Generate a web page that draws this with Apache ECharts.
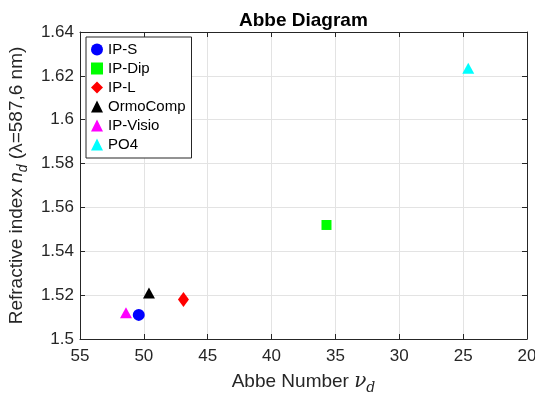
<!DOCTYPE html>
<html>
<head>
<meta charset="utf-8">
<script src="https://cdn.jsdelivr.net/npm/echarts@6/dist/echarts.min.js"></script>
<style>
html,body{margin:0;padding:0;background:#fff;}
#c{width:535px;height:393px;}
</style>
</head>
<body>
<div id="c"></div>
<script>
// ---- data ----
const materials = ['IP-S', 'IP-Dip', 'IP-L', 'OrmoComp', 'IP-Visio', 'PO4'];
const abbeNumbers = [50.4, 35.7, 46.9, 49.6, 51.4, 24.6];
const refractiveIndex = [1.511, 1.552, 1.518, 1.521, 1.512, 1.6235];
const xTicks = [20, 25, 30, 35, 40, 45, 50, 55];
const yTicks = [1.5, 1.52, 1.54, 1.56, 1.58, 1.6, 1.62, 1.64];

// ---- styles ----
const colors = ['#0000ff', '#00ff00', '#ff0000', '#000000', '#ff00ff', '#00ffff'];
const symbols = ['circle', 'rect', 'diamond', 'triangle', 'triangle', 'triangle'];
const sizes = [12, 10, [11, 15], [12, 11], [12, 11], [12, 11]];
const FONT = 'Liberation Sans, Arial, Helvetica, sans-serif';
const AX = '#262626';

const chart = echarts.init(document.getElementById('c'), null, {renderer: 'canvas'});

const series = materials.map((m, i) => ({
  name: m,
  type: 'scatter',
  xAxisIndex: 0,
  yAxisIndex: 0,
  symbol: symbols[i],
  symbolSize: sizes[i],
  z: i === 0 ? 5 : 2,
  itemStyle: {color: colors[i], opacity: 1},
  emphasis: {disabled: true},
  data: [[abbeNumbers[i], refractiveIndex[i]]]
}));

const baseX = {
  type: 'value',
  min: xTicks[0],
  max: xTicks[xTicks.length - 1],
  interval: 5,
  inverse: true,
  axisLine: {show: true, onZero: false, lineStyle: {color: AX, width: 1}},
  axisTick: {show: true, inside: true, length: 5, lineStyle: {color: AX}},
  splitLine: {show: false}
};
const baseY = {
  type: 'value',
  min: yTicks[0],
  max: yTicks[yTicks.length - 1],
  interval: 0.02,
  axisLine: {show: true, onZero: false, lineStyle: {color: AX, width: 1}},
  axisTick: {show: true, inside: true, length: 5, lineStyle: {color: AX}},
  splitLine: {show: false}
};

chart.setOption({
  animation: false,
  backgroundColor: '#ffffff',
  textStyle: {fontFamily: FONT},
  title: {
    text: 'Abbe Diagram',
    left: 234,
    top: 6,
    textStyle: {fontFamily: FONT, fontSize: 19, fontWeight: 'bold', color: '#000'}
  },
  grid: {left: 80, right: 8, top: 32, bottom: 54, containLabel: false, outerBoundsMode: 'none'},
  legend: {
    orient: 'vertical',
    left: 86,
    top: 37,
    padding: [5, 6, 6, 5],
    itemWidth: 12,
    itemHeight: 12,
    itemGap: 4,
    backgroundColor: '#fff',
    borderColor: AX,
    borderWidth: 1,
    borderRadius: 0,
    selectedMode: false,
    textStyle: {fontFamily: FONT, fontSize: 15, lineHeight: 15, color: '#000', padding: [0, 0, 0, 0]},
    data: materials.map((m, i) => ({name: m, icon: symbols[i]}))
  },
  xAxis: [
    Object.assign({}, baseX, {
      position: 'bottom',
      splitLine: {show: true, lineStyle: {color: '#e3e3e3', width: 1}},
      axisLabel: {show: true, color: AX, fontSize: 17, fontFamily: FONT, margin: 9},
      name: '{t|Abbe Number }{g|ν}{s|d}',
      nameLocation: 'middle',
      nameGap: 30,
      nameTextStyle: {
        rich: {
          t: {fontSize: 19, fontFamily: FONT, color: AX},
          g: {fontSize: 20, fontFamily: 'DejaVu Serif, serif', fontStyle: 'italic', color: AX},
          s: {fontSize: 14, fontFamily: 'DejaVu Serif, serif', fontStyle: 'italic', color: AX, padding: [12, 0, 0, 0]}
        }
      }
    }),
    Object.assign({}, baseX, {
      position: 'top',
      axisLabel: {show: false}
    })
  ],
  yAxis: [
    Object.assign({}, baseY, {
      position: 'left',
      splitLine: {show: true, lineStyle: {color: '#e3e3e3', width: 1}},
      axisLabel: {
        show: true, color: AX, fontSize: 17, fontFamily: FONT, margin: 6,
        formatter: v => String(parseFloat(v.toFixed(2)))
      },
      name: '{t|Refractive index }{i|n}{s|d}{t| (λ=587,6 nm)}',
      nameLocation: 'middle',
      nameRotate: 90,
      nameGap: 42,
      nameTextStyle: {
        rich: {
          t: {fontSize: 19, fontFamily: FONT, color: AX},
          i: {fontSize: 19, fontFamily: FONT, fontStyle: 'italic', color: AX},
          s: {fontSize: 14, fontFamily: FONT, fontStyle: 'italic', color: AX, padding: [12, 0, 0, 0]}
        }
      }
    }),
    Object.assign({}, baseY, {
      position: 'right',
      axisLabel: {show: false}
    })
  ],
  series: series
});
</script>
</body>
</html>
